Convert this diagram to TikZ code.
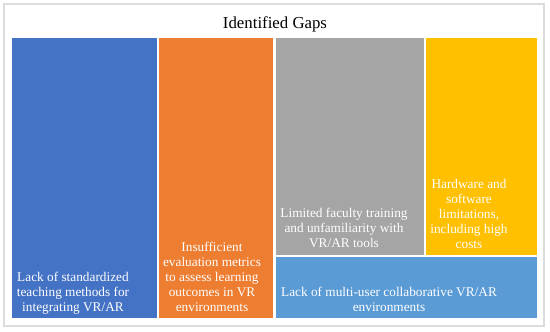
\documentclass[tikz,border=0pt]{standalone}
\usepackage{fontspec}
\setmainfont{Liberation Serif}
\usepackage{tikz}
\definecolor{tileblue}{HTML}{4472C4}
\definecolor{tileorange}{HTML}{ED7D31}
\definecolor{tilegray}{HTML}{A5A5A5}
\definecolor{tileyellow}{HTML}{FFC000}
\definecolor{tilesky}{HTML}{5B9BD5}
\definecolor{framegray}{HTML}{DCDCDC}

\begin{document}
\begin{tikzpicture}[x=1pt, y=-1pt]
\tikzstyle{gap_text}=[anchor=south, align=center, text=white, inner sep=0pt, font=\fontsize{13.3}{15}\selectfont]
\tikzstyle{title_text}=[anchor=base, inner sep=0pt, font=\fontsize{16.8}{20}\selectfont]

\useasboundingbox (0,0) rectangle (550,332);
\draw[framegray, line width=1.5] (4,4) rectangle (544,326);

\fill[tileblue] (12,38) rectangle (157,318);
\fill[tileorange] (159,38) rectangle (273,318);
\fill[tilegray] (276,38) rectangle (424,255);
\fill[tileyellow] (426,38) rectangle (537,255);
\fill[tilesky] (276,257) rectangle (537,318);

\path (275,28) node[title_text](title) {Identified Gaps}
	  (73,314.3) node[gap_text](G1) {Lack of standardized\\teaching methods for\\integrating VR/AR}
	  (212,311.4) node[gap_text](G2) {Insufficient\\evaluation metrics\\to assess learning\\outcomes in VR\\environments}
	  (344,248.4) node[gap_text](G3) {Limited faculty training\\and unfamiliarity with\\VR/AR tools}
	  (469,248.4) node[gap_text](G4) {Hardware and\\software\\limitations,\\including high\\costs}
	  (389,311.4) node[gap_text](G5) {Lack of multi-user collaborative VR/AR\\environments};

\end{tikzpicture}
\end{document}
